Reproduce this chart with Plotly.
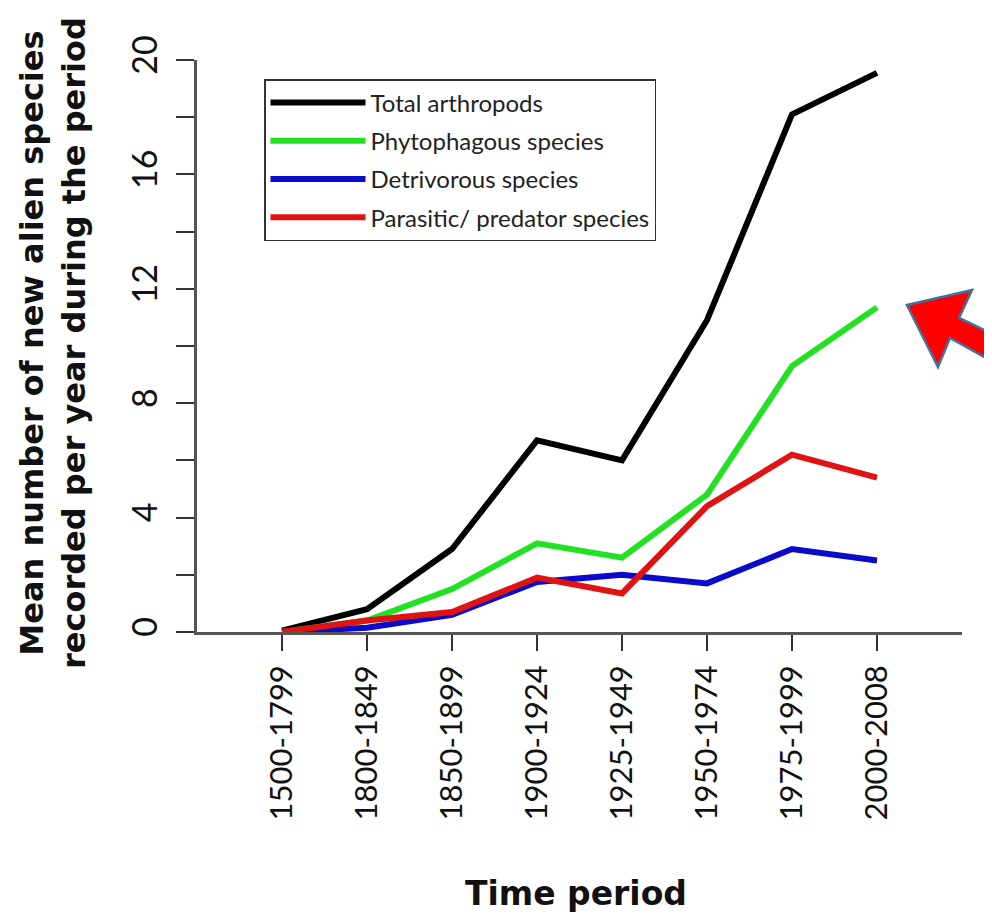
import plotly.graph_objects as go

periods = ["1500-1799", "1800-1849", "1850-1899", "1900-1924",
           "1925-1949", "1950-1974", "1975-1999", "2000-2008"]
total = [0.05, 0.8, 2.9, 6.7, 6.0, 10.9, 18.1, 19.55]
phyto = [0.0, 0.4, 1.5, 3.1, 2.6, 4.8, 9.3, 11.35]
detri = [0.0, 0.15, 0.6, 1.75, 2.0, 1.7, 2.9, 2.5]
para = [0.0, 0.4, 0.7, 1.9, 1.35, 4.4, 6.2, 5.4]
y_ticks = [0, 4, 8, 12, 16, 20]

series = [
    ("Total arthropods", total, "#000000"),
    ("Phytophagous species", phyto, "#22e022"),
    ("Detrivorous species", detri, "#0a0acc"),
    ("Parasitic/ predator species", para, "#e01212"),
]

# page body has an 8px margin; the figure is offset by it
OFF = 8
WIN_W, WIN_H = 992, 917
W, H = WIN_W - OFF, WIN_H - OFF
L, R, T, B = 197 - OFF, 30, 60 - OFF, 285
pw, ph = W - L - R, H - T - B


def px(x, y):
    """window pixel -> paper coordinates"""
    return (x - OFF - L) / pw, (H - B - (y - OFF)) / ph


fig = go.Figure()
for name, vals, col in series:
    fig.add_trace(go.Scatter(
        x=periods, y=vals, name=name, mode="lines", legendgroup=name,
        line=dict(color=col, width=6),
        cliponaxis=False,
    ))

font_fam = "Lato, 'Open Sans', sans-serif"
bold_fam = "'DejaVu Sans', sans-serif"

fig.update_layout(
    width=W, height=H,
    margin=dict(l=L, r=R, t=T, b=B, pad=0),
    paper_bgcolor="white", plot_bgcolor="white",
    font=dict(family=font_fam, color="#111"),
    showlegend=True,
    legend=dict(
        x=px(264, 79)[0], y=px(264, 79)[1], xanchor="left", yanchor="top",
        bordercolor="#333", borderwidth=1.5, bgcolor="white",
        font=dict(size=24, family=font_fam, color="#222"),
        tracegroupgap=4, itemwidth=95,
    ),
    xaxis=dict(
        type="category", categoryorder="array", categoryarray=periods,
        range=[-1, 8], showgrid=False, zeroline=False,
        showline=True, linecolor="#555", linewidth=2.5,
        ticks="outside", ticklen=16, tickwidth=2, tickcolor="#333",
        tickangle=-90, tickfont=dict(size=31, family=font_fam, color="#111"),
        ticklabelstandoff=2,
    ),
    yaxis=dict(
        range=[0, 20], showgrid=False, zeroline=False,
        showline=True, linecolor="#555", linewidth=2.5,
        tickmode="array", tickvals=y_ticks, ticktext=[str(v) for v in y_ticks],
        ticks="outside", ticklen=18, tickwidth=2, tickcolor="#333",
        minor=dict(ticks="outside", dtick=2, ticklen=18, tickwidth=2, tickcolor="#333"),
        tickangle=-90, tickfont=dict(size=34, family=font_fam, color="#111"),
        ticklabelstandoff=6,
    ),
)

# Axis titles
fig.add_annotation(
    xref="paper", yref="paper", x=px(53, 0)[0], y=px(0, 343)[1],
    text="Mean number of new alien species<br>recorded per year during the period",
    textangle=-90, showarrow=False, xanchor="center", yanchor="middle",
    font=dict(size=32, family=bold_fam, color="#111", weight="bold"),
    align="center",
)
fig.add_annotation(
    xref="paper", yref="paper", x=px(576, 0)[0], y=px(0, 893)[1],
    text="Time period", showarrow=False, xanchor="center", yanchor="middle",
    font=dict(size=33, family=bold_fam, color="#111", weight="bold"),
)

# Red arrow decoration
pts = [(907, 305), (972, 290), (959, 318), (1012, 343), (1004, 368),
       (950, 338), (938, 367)]
path = "M " + " L ".join(f"{px(a, b)[0]:.4f},{px(a, b)[1]:.4f}" for a, b in pts) + " Z"
fig.add_shape(type="path", xref="paper", yref="paper", path=path,
              fillcolor="#ff0000", line=dict(color="#41719c", width=2.5),
              layer="above")

fig.write_html("out.html")
